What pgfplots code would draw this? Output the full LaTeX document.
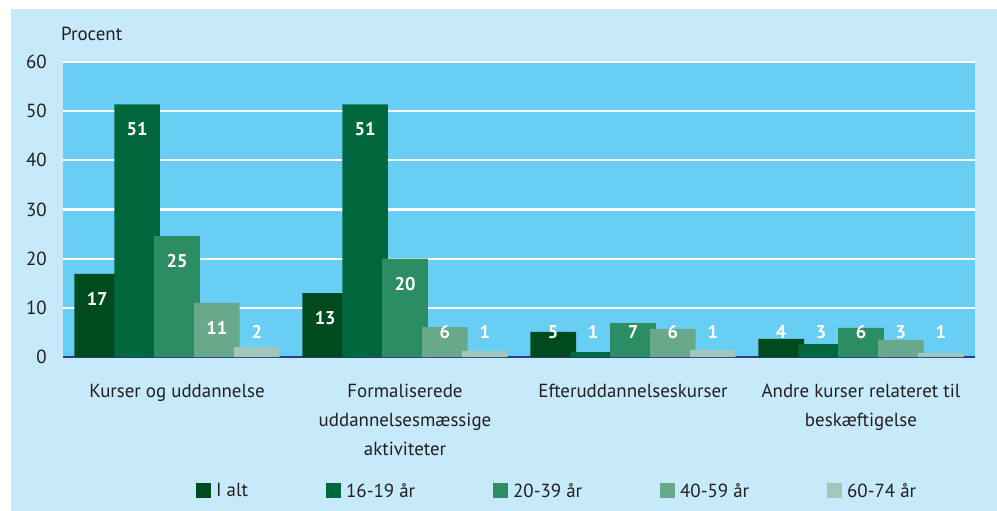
\documentclass[border=0pt]{standalone}
\usepackage{pgfplots}
\pgfplotsset{compat=1.18}
\usepackage{fontspec}
\setmainfont{PT Sans}
\definecolor{outerbg}{RGB}{198,234,250}
\definecolor{plotbg}{RGB}{105,206,244}
\definecolor{navyline}{RGB}{43,57,144}
\definecolor{txt}{RGB}{35,31,32}
\definecolor{cA}{RGB}{0,75,30}
\definecolor{cB}{RGB}{0,104,60}
\definecolor{cC}{RGB}{44,140,100}
\definecolor{cD}{RGB}{103,169,138}
\definecolor{cE}{RGB}{162,198,184}
\begin{document}
\begin{tikzpicture}
\useasboundingbox (0bp,0bp) rectangle (997bp,-511bp);
\fill[white] (0bp,0bp) rectangle (997bp,-511bp);
\fill[outerbg] (11bp,-9bp) rectangle (997bp,-511bp);
\node[anchor=base west, font=\fontsize{19}{22}\selectfont, text=txt, inner sep=0pt] at (61bp,-40bp) {Procent};
\begin{axis}[
  at={(63bp,-357bp)}, anchor=south west,
  width=912bp, height=295bp, scale only axis,
  xmin=-0.5, xmax=3.5, ymin=0, ymax=60,
  /pgf/number format/assume math mode=true,
  axis background/.style={fill=plotbg},
  axis line style={draw=none},
  ytick={0,10,...,60},
  ymajorgrids, grid style={white, line width=2.2bp},
  extra y ticks={0}, extra y tick labels={},
  extra y tick style={grid style={navyline, line width=2.5bp}},
  major tick length=0pt,
  xtick={0,1,2,3},
  xticklabels={Kurser og uddannelse, {Formaliserede\\uddannelsesmæssige\\aktiviteter}, Efteruddannelseskurser, {Andre kurser relateret til\\beskæftigelse}},
  yticklabel style={inner sep=0pt, xshift=-16bp, font=\fontsize{19}{22}\selectfont, text=txt},
  xticklabel style={align=center, inner sep=0pt, yshift=-27bp, font=\fontsize{19}{29}\selectfont, text=txt},
  clip=false,
  legend columns=5,
  legend style={at={(0.1458,-0.4455)}, anchor=west, draw=none, fill=none, inner sep=0pt,
    nodes={inner sep=0pt, text=txt, font=\fontsize{19}{22}\selectfont},
    /tikz/every odd column/.style={column sep=5bp},
    /tikz/every even column/.style={column sep=0bp}},
]
\addplot[ybar, bar width=0.2, bar shift=-0.35, fill=cA, draw=none,
  legend image code/.code={\path (0bp,-7.5bp) -- (0bp,12.5bp);\fill[cA] (0bp,-7.5bp) rectangle (15bp,7.5bp);}]
  coordinates {(0,16.9) (1,13.0) (2,5.1) (3,3.7)};
\addlegendentry{\makebox[110bp][l]{I alt}}
\addplot[ybar, bar width=0.2, bar shift=-0.175, fill=cB, draw=none,
  legend image code/.code={\path (0bp,-7.5bp) -- (0bp,12.5bp);\fill[cB] (0bp,-7.5bp) rectangle (15bp,7.5bp);}]
  coordinates {(0,51.4) (1,51.4) (2,1.0) (3,2.6)};
\addlegendentry{\makebox[147bp][l]{16-19 år}}
\addplot[ybar, bar width=0.2, bar shift=0, fill=cC, draw=none,
  legend image code/.code={\path (0bp,-7.5bp) -- (0bp,12.5bp);\fill[cC] (0bp,-7.5bp) rectangle (15bp,7.5bp);}]
  coordinates {(0,24.6) (1,20.0) (2,6.9) (3,5.9)};
\addlegendentry{\makebox[147bp][l]{20-39 år}}
\addplot[ybar, bar width=0.2, bar shift=0.175, fill=cD, draw=none,
  legend image code/.code={\path (0bp,-7.5bp) -- (0bp,12.5bp);\fill[cD] (0bp,-7.5bp) rectangle (15bp,7.5bp);}]
  coordinates {(0,11.0) (1,6.1) (2,5.7) (3,3.5)};
\addlegendentry{\makebox[147bp][l]{40-59 år}}
\addplot[ybar, bar width=0.2, bar shift=0.35, fill=cE, draw=none,
  legend image code/.code={\path (0bp,-7.5bp) -- (0bp,12.5bp);\fill[cE] (0bp,-7.5bp) rectangle (15bp,7.5bp);}]
  coordinates {(0,2.0) (1,1.2) (2,1.4) (3,0.8)};
\addlegendentry{\makebox[60bp][l]{60-74 år}}
\addplot[forget plot, only marks, mark=*, mark size=0pt, mark options={draw=none, fill=none},
  nodes near coords, point meta=explicit symbolic,
  every node near coord/.append style={anchor=center, text=white, inner sep=0pt, font=\bfseries\fontsize{18.5}{20}\selectfont}]
  coordinates {
  (-0.35,11.8)[17] (-0.175,46.3)[51] (0,19.5)[25] (0.175,5.9)[11] (0.35,5.1)[2]
  (0.65,7.9)[13] (0.825,46.3)[51] (1,14.9)[20] (1.175,5.1)[6] (1.35,5.1)[1]
  (1.65,5.1)[5] (1.825,5.1)[1] (2,5.1)[7] (2.175,5.1)[6] (2.35,5.1)[1]
  (2.65,5.1)[4] (2.825,5.1)[3] (3,5.1)[6] (3.175,5.1)[3] (3.35,5.1)[1]
  };
\end{axis}
\end{tikzpicture}
\end{document}
